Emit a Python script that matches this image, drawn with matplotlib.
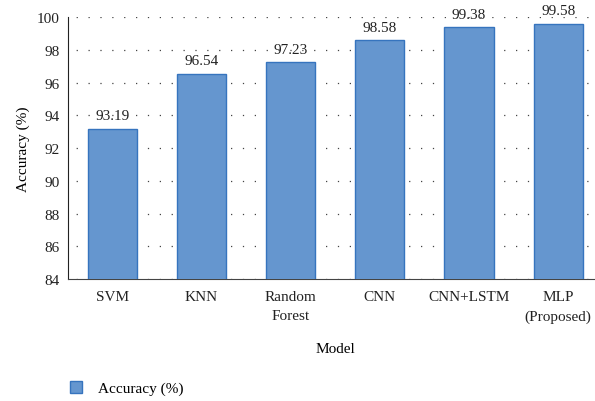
import matplotlib
matplotlib.use("Agg")
import matplotlib.pyplot as plt
from matplotlib.patches import Patch

models = ["SVM", "KNN", "Random\nForest", "CNN", "CNN+LSTM", "MLP\n(Proposed)"]
accuracy = [93.19, 96.54, 97.23, 98.58, 99.38, 99.58]
yticks = [84, 86, 88, 90, 92, 94, 96, 98, 100]

plt.rcParams['font.family'] = ['Liberation Serif', 'DejaVu Serif']
plt.rcParams['font.size'] = 11

fill = "#6596CF"
edge = "#3674BE"

fig = plt.figure(figsize=(5.95, 4.02), dpi=100)
ax = fig.add_axes([0.114, 0.303, 0.899, 0.652])

x = list(range(len(models)))
bars = ax.bar(x, accuracy, width=0.55, color=fill, edgecolor=edge, linewidth=1.0, zorder=3)
for xi, v in zip(x, accuracy):
    ax.text(xi, v + 0.4, f"{v:.2f}", ha="center", va="bottom", color="#222222")

ax.set_ylim(84, 100)
ax.set_xlim(-0.5, len(models) - 0.5)
ax.set_yticks(yticks)
ax.set_xticks(x)
ax.set_xticklabels(models, linespacing=1.6, va="top")
ax.tick_params(axis="both", length=0, colors="#222222")
ax.tick_params(axis="x", pad=8)
ax.tick_params(axis="y", pad=6)
ax.yaxis.grid(True, linestyle=(3, (1, 8.5)), color="#444444", linewidth=0.9, zorder=0)
for s in ["top", "right"]:
    ax.spines[s].set_visible(False)
ax.spines["left"].set_color("#222222")
ax.spines["bottom"].set_color("#444444")
ax.set_ylabel("Accuracy (%)", labelpad=5)
ax.set_xlabel("Model", labelpad=14)

fig.legend(handles=[Patch(facecolor=fill, edgecolor=edge, label="Accuracy (%)")],
           loc="center left", bbox_to_anchor=(0.095, 0.032), frameon=False,
           handlelength=0.8, handleheight=0.8, handletextpad=1.0)

fig.savefig("out.png", dpi=100)
